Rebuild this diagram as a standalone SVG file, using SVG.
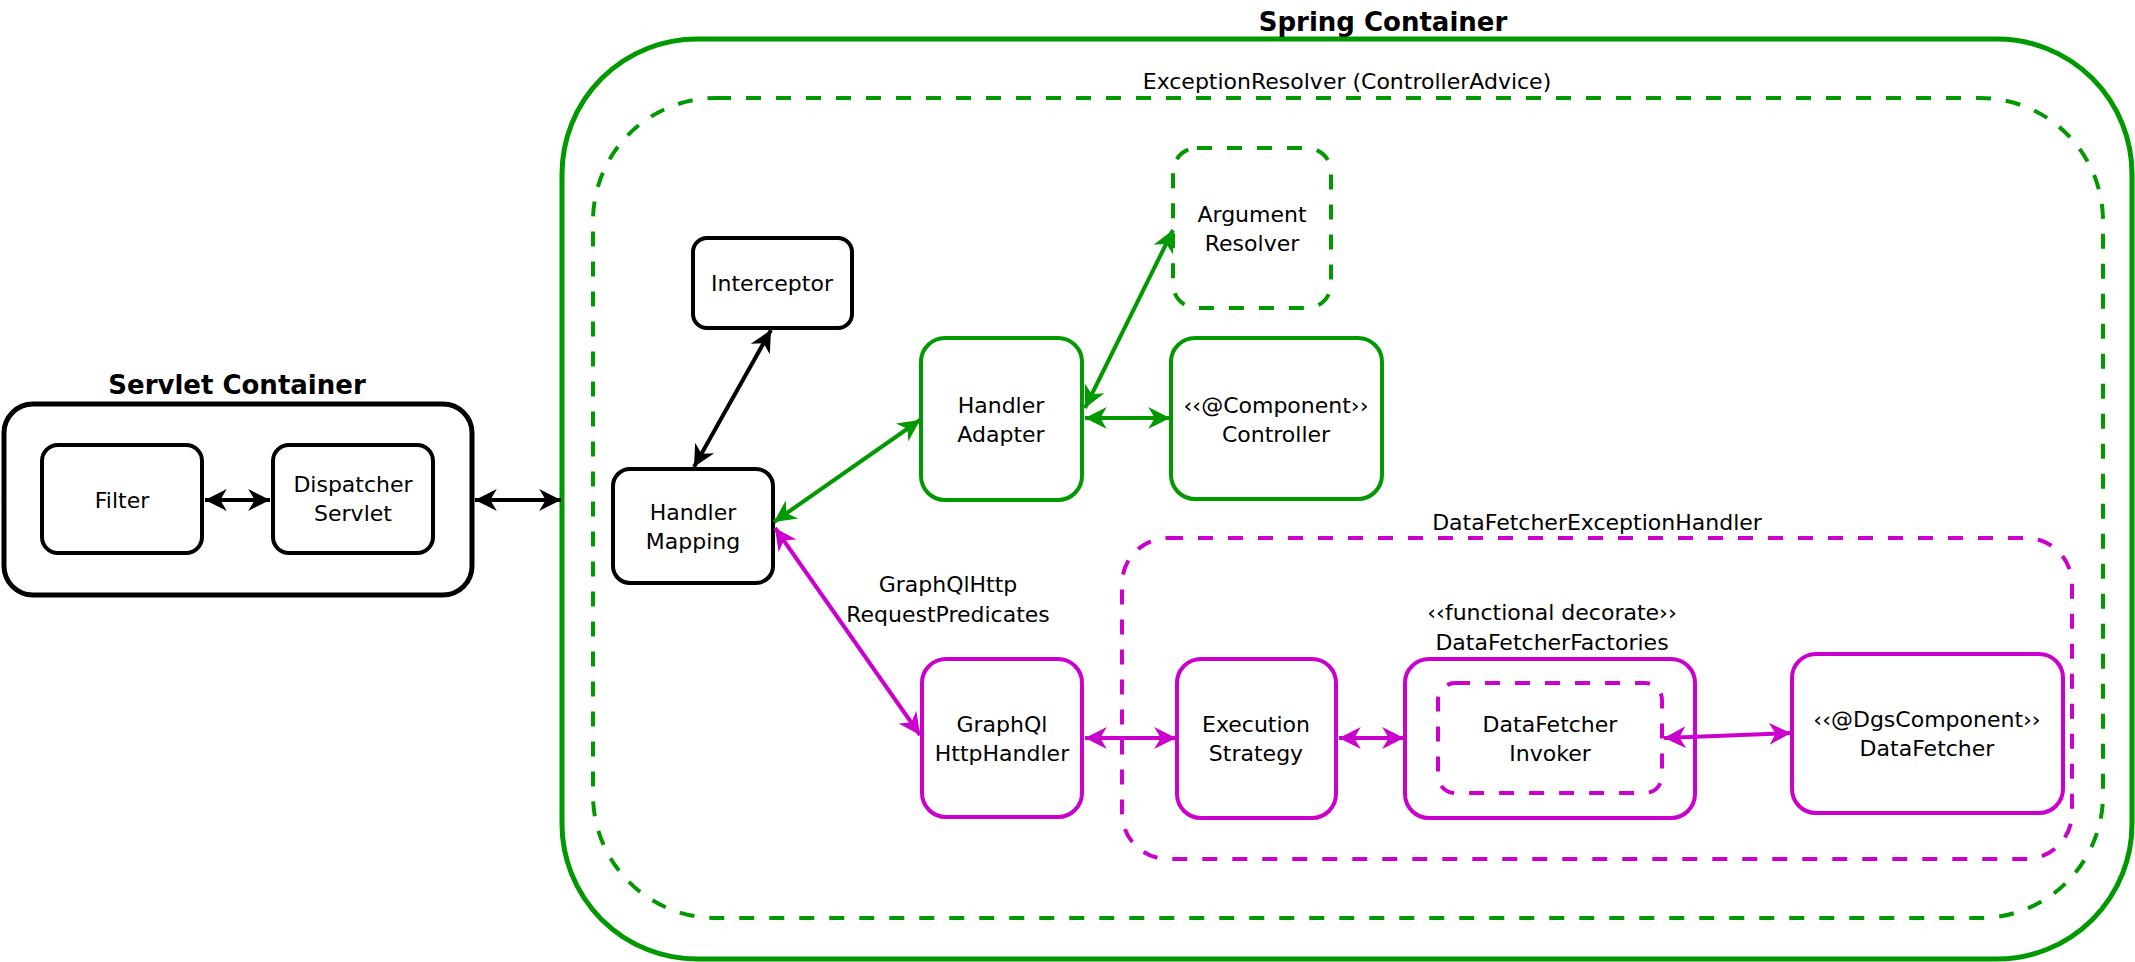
<svg xmlns="http://www.w3.org/2000/svg" width="2135" height="962" viewBox="0 0 2135 962">
<style>
text{font-family:"Comic Sans MS","DejaVu Sans","Liberation Sans",sans-serif;font-size:22px;fill:#000;text-anchor:middle}
.title{font-size:26px;font-weight:bold}
.box{fill:#fff;stroke-width:4}
.k{stroke:#000}
.g{stroke:#009900}
.m{stroke:#CC00CC}
.dash{fill:none;stroke-dasharray:15 15}
.cont{fill:none;stroke-width:5}
.c{fill:none;stroke-width:4}
</style>
<defs>
<marker id="ak" markerUnits="userSpaceOnUse" markerWidth="24" markerHeight="24" viewBox="0 0 22 22" refX="20" refY="11" orient="auto-start-reverse"><path d="M0,1 L20,11 L0,21 L6,11 z" fill="#000"/></marker>
<marker id="ag" markerUnits="userSpaceOnUse" markerWidth="24" markerHeight="24" viewBox="0 0 22 22" refX="20" refY="11" orient="auto-start-reverse"><path d="M0,1 L20,11 L0,21 L6,11 z" fill="#009900"/></marker>
<marker id="am" markerUnits="userSpaceOnUse" markerWidth="24" markerHeight="24" viewBox="0 0 22 22" refX="20" refY="11" orient="auto-start-reverse"><path d="M0,1 L20,11 L0,21 L6,11 z" fill="#CC00CC"/></marker>
</defs>
<rect width="2135" height="962" fill="#fff"/>

<g id="servlet-container">
<rect class="cont k" x="4" y="404" width="468" height="191" rx="29"/>
<text class="title" x="237" y="394">Servlet Container</text>
</g>
<g id="spring-container">
<rect class="cont g" x="562" y="39" width="1570" height="920" rx="135"/>
<text class="title" x="1383" y="31">Spring Container</text>
</g>
<g id="exception-resolver">
<rect class="c g dash" x="593" y="98" width="1510" height="820" rx="123"/>
<text x="1347" y="89">ExceptionResolver (ControllerAdvice)</text>
</g>
<g id="datafetcher-exception-handler">
<rect class="c m dash" x="1122" y="538" width="950" height="321" rx="46"/>
<text x="1597" y="530">DataFetcherExceptionHandler</text>
</g>

<g id="filter">
<rect class="box k" x="42" y="445" width="160" height="108" rx="16"/>
<text x="122" y="508">Filter</text>
</g>
<g id="dispatcher-servlet">
<rect class="box k" x="273" y="445" width="160" height="108" rx="16"/>
<text x="353" y="492">Dispatcher</text>
<text x="353" y="521">Servlet</text>
</g>
<g id="interceptor">
<rect class="box k" x="693" y="238" width="159" height="90" rx="14"/>
<text x="772" y="291">Interceptor</text>
</g>
<g id="handler-mapping">
<rect class="box k" x="613" y="469" width="160" height="114" rx="17"/>
<text x="693" y="520">Handler</text>
<text x="693" y="549">Mapping</text>
</g>
<g id="argument-resolver">
<rect class="c g dash" x="1173" y="148" width="158" height="160" rx="24"/>
<text x="1252" y="222">Argument</text>
<text x="1252" y="251">Resolver</text>
</g>
<g id="handler-adapter">
<rect class="box g" x="921" y="338" width="161" height="162" rx="24"/>
<text x="1001" y="413">Handler</text>
<text x="1001" y="442">Adapter</text>
</g>
<g id="controller">
<rect class="box g" x="1171" y="338" width="211" height="161" rx="24"/>
<text x="1276" y="413">‹‹@Component››</text>
<text x="1276" y="442">Controller</text>
</g>
<g id="graphql-http-handler">
<rect class="box m" x="922" y="659" width="160" height="158" rx="24"/>
<text x="1002" y="732">GraphQl</text>
<text x="1002" y="761">HttpHandler</text>
</g>
<g id="execution-strategy">
<rect class="box m" x="1177" y="659" width="159" height="159" rx="24"/>
<text x="1256" y="732">Execution</text>
<text x="1256" y="761">Strategy</text>
</g>
<g id="datafetcher-factories">
<rect class="box m" x="1405" y="659" width="290" height="159" rx="24"/>
<text x="1552" y="620">‹‹functional decorate››</text>
<text x="1552" y="650">DataFetcherFactories</text>
</g>
<g id="datafetcher-invoker">
<rect class="c m dash" x="1438" y="683" width="224" height="110" rx="17"/>
<text x="1550" y="732">DataFetcher</text>
<text x="1550" y="761">Invoker</text>
</g>
<g id="datafetcher">
<rect class="box m" x="1792" y="654" width="271" height="159" rx="24"/>
<text x="1927" y="727">‹‹@DgsComponent››</text>
<text x="1927" y="756">DataFetcher</text>
</g>
<g id="graphql-request-predicates-label">
<text x="948" y="592">GraphQlHttp</text>
<text x="948" y="622">RequestPredicates</text>
</g>

<g id="connectors">
<line class="c k" x1="205" y1="500" x2="270" y2="500" marker-start="url(#ak)" marker-end="url(#ak)"/>
<line class="c k" x1="475" y1="500" x2="561" y2="500" marker-start="url(#ak)" marker-end="url(#ak)"/>
<line class="c k" x1="694" y1="467" x2="771" y2="330" marker-start="url(#ak)" marker-end="url(#ak)"/>
<line class="c g" x1="774" y1="522" x2="920" y2="420" marker-start="url(#ag)" marker-end="url(#ag)"/>
<line class="c g" x1="1085" y1="408" x2="1173" y2="230" marker-start="url(#ag)" marker-end="url(#ag)"/>
<line class="c g" x1="1085" y1="418" x2="1170" y2="418" marker-start="url(#ag)" marker-end="url(#ag)"/>
<line class="c m" x1="775" y1="528" x2="920" y2="735" marker-start="url(#am)" marker-end="url(#am)"/>
<line class="c m" x1="1085" y1="738" x2="1176" y2="738" marker-start="url(#am)" marker-end="url(#am)"/>
<line class="c m" x1="1339" y1="738" x2="1404" y2="738" marker-start="url(#am)" marker-end="url(#am)"/>
<line class="c m" x1="1664" y1="738" x2="1791" y2="733" marker-start="url(#am)" marker-end="url(#am)"/>
</g>
</svg>
